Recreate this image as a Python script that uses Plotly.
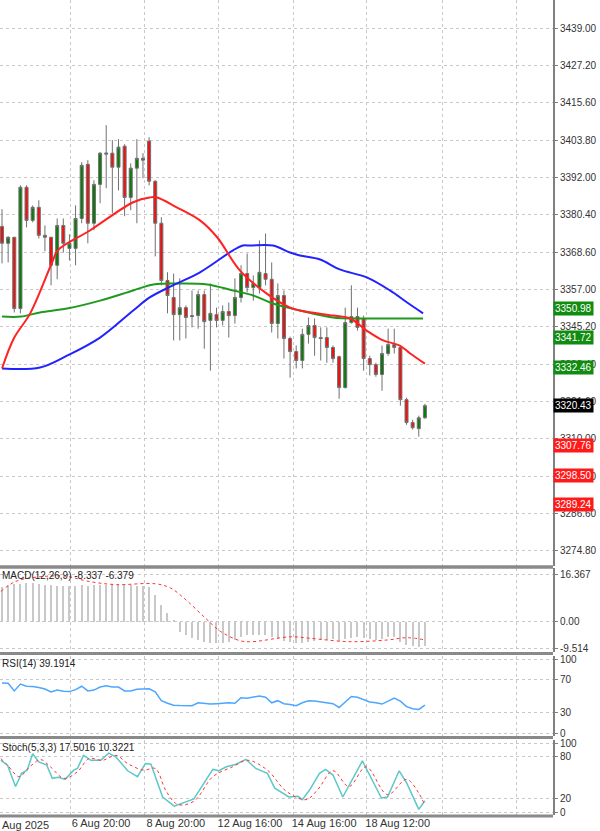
import plotly.graph_objects as go
from plotly.subplots import make_subplots

# ---------------- data ----------------
candle_idx = list(range(1, 71))
opens = [3376.7,3371.4,3373.3,3350.9,3389.0,3378.6,3382.7,3373.9,3373.3,3364.5,
         3377.0,3369.8,3369.8,3379.2,3396.2,3377.7,3389.9,3399.4,3399.7,3395.3,
         3401.9,3385.8,3395.0,3398.1,3403.5,3390.9,3377.7,3359.7,3354.4,3349.0,
         3351.2,3348.7,3348.7,3355.3,3347.2,3349.0,3347.2,3350.0,3348.7,3354.4,
         3361.9,3357.5,3357.5,3361.9,3360.1,3346.2,3355.0,3341.5,3337.4,3334.6,
         3342.8,3345.6,3341.8,3341.8,3338.7,3335.8,3326.1,3346.5,3348.4,3347.8,
         3335.2,3333.3,3330.2,3336.8,3339.6,3338.7,3322.3,3315.1,3313.2,3316.6]
highs = [3382.1,3373.6,3373.3,3389.6,3389.6,3383.3,3384.9,3377.0,3373.3,3379.2,
         3379.2,3374.2,3383.3,3396.9,3397.5,3391.2,3400.0,3408.5,3403.8,3404.1,
         3402.5,3396.5,3404.1,3399.7,3404.7,3391.2,3379.6,3362.3,3361.9,3360.4,
         3351.9,3356.6,3356.6,3356.6,3358.8,3351.2,3351.9,3352.8,3360.4,3364.5,
         3368.2,3361.3,3372.3,3374.5,3365.4,3358.8,3356.6,3342.1,3339.3,3344.6,
         3348.1,3347.8,3345.0,3345.0,3339.3,3336.1,3351.2,3358.2,3351.2,3348.7,
         3336.1,3333.9,3339.3,3344.6,3344.6,3338.7,3322.9,3316.0,3317.3,3321.0]
lows = [3365.1,3365.4,3349.7,3349.4,3376.4,3378.0,3372.9,3368.9,3358.2,3360.1,
        3368.5,3366.0,3364.5,3377.7,3371.4,3375.5,3384.0,3388.7,3380.8,3388.0,
        3379.9,3381.8,3377.7,3391.8,3389.6,3367.3,3358.2,3349.4,3340.9,3340.9,
        3341.5,3345.0,3344.6,3338.3,3331.4,3345.0,3345.6,3341.8,3346.2,3352.8,
        3356.0,3353.4,3355.6,3358.2,3343.4,3341.5,3335.2,3329.2,3332.1,3332.1,
        3339.9,3336.1,3334.6,3333.9,3333.9,3322.6,3325.8,3346.2,3344.0,3331.4,
        3329.9,3329.5,3325.1,3336.1,3336.8,3320.4,3314.4,3312.9,3310.7,3316.3]
closes = [3371.4,3373.3,3350.9,3389.0,3378.6,3382.7,3373.9,3373.3,3364.5,3377.0,
          3371.4,3371.4,3379.2,3395.9,3377.7,3389.9,3399.7,3399.7,3395.3,3401.6,
          3385.8,3395.0,3398.1,3397.5,3390.9,3377.7,3359.7,3355.0,3349.0,3351.2,
          3348.1,3348.4,3355.3,3346.8,3349.4,3347.2,3350.0,3348.7,3354.4,3361.9,
          3357.5,3358.8,3362.3,3360.1,3346.2,3355.0,3341.5,3337.4,3334.6,3342.8,
          3345.6,3341.8,3341.5,3338.7,3335.2,3326.1,3346.5,3348.4,3345.0,3335.2,
          3333.3,3330.2,3336.8,3339.6,3338.7,3322.3,3315.1,3313.5,3316.6,3320.43]

ma_red_x = [1,3,5.6,9.3,10.1,15.4,22.4,25.1,26.3,29.5,33.3,36.1,39.8,44.2,48,49.6,55,57.8,60.5,63.2,65.9,67.6,70]
ma_red_y = [3332.1,3341.8,3349.4,3366.0,3369.2,3375.5,3384.3,3385.8,3385.8,3382.7,3378.6,3373.3,3362.9,
            3355.6,3351.2,3350.3,3348.7,3347.8,3344.0,3340.9,3339.3,3336.8,3333.6]
ma_blue_x = [1,7.2,11.6,17,22.4,25.1,28.9,33.3,38.7,40.3,41.5,45.2,48,49.6,52.9,56.1,60.5,64.3,67.1,69.7]
ma_blue_y = [3332.1,3332.4,3336.1,3341.8,3350.3,3354.4,3358.2,3362.3,3369.2,3370.7,3370.7,3370.7,3368.5,
             3367.6,3366.3,3363.2,3360.7,3356.6,3352.8,3349.4]
ma_green_x = [1,4.1,7.2,11.6,17,22.4,25.7,30.1,34.5,38.7,42,45.2,49.6,55,59.4,64.8,69.7]
ma_green_y = [3348.4,3348.4,3349.7,3350.9,3353.4,3356.6,3358.5,3358.8,3358.5,3356.6,3355.0,3352.5,
              3350.3,3348.1,3347.8,3347.8,3347.8]

green_levels = [3350.98, 3341.72, 3332.46]
red_levels = [3307.76, 3298.50, 3289.24]
last_price = 3320.43

price_ticks = [3439.0,3427.2,3415.6,3403.8,3392.0,3380.4,3368.6,3357.0,3345.2,3333.4,3321.6,3310.0,3298.2,3286.6,3274.8]

macd_hist = [12.0,12.6,13.0,13.2,13.4,13.3,13.1,12.8,12.6,12.5,12.4,12.3,12.4,12.6,12.5,12.6,12.8,12.9,13.0,12.9,
             12.8,12.7,12.5,12.4,12.0,9.4,5.8,2.9,0.3,-3.5,-4.7,-5.6,-6.4,-7.2,-7.6,-7.6,-7.4,-7.0,-6.5,-5.5,
             -4.8,-4.5,-4.5,-4.6,-5.5,-6.0,-6.8,-7.2,-7.4,-7.3,-7.0,-6.6,-6.5,-6.4,-6.2,-6.6,-6.0,-5.6,-5.3,-5.8,
             -6.2,-6.5,-6.2,-5.5,-5.2,-7.0,-8.0,-8.6,-8.8,-8.337]
macd_sig_x = [0.8,3.2,7,11.4,15.2,19.6,26,28.5,31,34.2,36.7,39.9,41.8,48.1,51.2,57.6,63.9,67.1,70]
macd_sig_y = [10.5,14.0,15.6,15.8,14.0,12.9,13.2,11.7,7.6,1.2,-3.5,-6.7,-7.0,-5.3,-5.8,-7.0,-6.4,-5.6,-6.379]

rsi = [65.2,65,56,64,61.5,61.2,60,58.2,54.8,57,55.5,55.2,57.5,61.5,56,57,60.5,62,60.5,60.5,
       56,56,58,58.5,58.5,55,44.5,41.5,39.2,38.8,38.5,38.5,42,41,40.5,41,41.8,42,41.5,48,
       47.5,48.5,50,48.5,42,44.5,41,40,38.5,42,44.4,44,43,42.6,41,36.5,43,49.5,48.5,46,
       43,42,40.5,44,47.5,44,37.5,35,34.2,39.19]

stk_x = [0.8,1.9,3.2,4.2,5.1,6.0,7.0,8.3,9.2,10.2,11.3,12.7,13.3,14.3,15.5,17.1,18.4,19.6,21.5,23.1,24.4,25.3,
         27.2,29.1,32.3,35.4,36.4,37.6,39.2,40.8,42.4,44.3,45.5,47.8,49.3,50,51.2,52.8,53.8,55,56.6,59.8,62.9,
         63.9,65.8,67.0,69,70]
stk_k = [75.3,68.3,37.8,56.6,61.2,84.7,73,68.3,49.5,51,48,61.2,63.6,82.3,75.3,75.3,85.6,80,60.3,51.9,70.6,69.7,
         22.8,9.7,20,62.2,60.3,66,69.7,76.7,63.6,56.6,35.5,22.8,23.7,19,33.1,56.6,62.2,54.2,22.8,74.4,21.4,
         22.8,60.3,43.4,5,17.5]
std_x = [0.8,1.9,3.8,5.4,7.3,8.9,11.1,13.3,15.2,17.4,19.6,21.5,24.1,26,27.8,29.7,32.3,35.4,38.6,41.1,44.3,47.4,
         50.6,52.5,55,57.6,60.4,63.9,67,69,70]
std_d = [77.7,68.3,51.9,65,76.2,65.9,49.5,58.9,77.7,75.3,82.3,70.6,61.2,63.6,30.8,12,16.7,51.9,65.9,75.3,61.2,30.8,
         19,33.1,60.3,37.8,65.9,26.1,48,28.3,10.3]

time_tick_idx = [12.1, 24.3, 36.4, 48.5, 60.5, 72.8, 85.0]
time_tick_txt = ["6 Aug 20:00", "8 Aug 20:00", "12 Aug 16:00", "14 Aug 16:00", "18 Aug 12:00", "", ""]

# ---------------- figure ----------------
FONT = "Liberation Sans"
fig = make_subplots(rows=4, cols=1, shared_xaxes=True)

fig.add_trace(go.Candlestick(x=candle_idx, open=opens, high=highs, low=lows, close=closes,
    increasing=dict(line=dict(color="#707070", width=1), fillcolor="#0b7a0b"),
    decreasing=dict(line=dict(color="#707070", width=1), fillcolor="#ee1111"),
    whiskerwidth=0, showlegend=False, hoverinfo="skip"), row=1, col=1)

for lv in green_levels:
    fig.add_hline(y=lv, line=dict(color="#1f9a1f", width=2), row=1, col=1)
for lv in red_levels:
    fig.add_hline(y=lv, line=dict(color="#ff1a1a", width=2), row=1, col=1)
fig.add_hline(y=last_price, line=dict(color="#d0d0d0", width=1), row=1, col=1)

fig.add_trace(go.Scatter(x=ma_green_x, y=ma_green_y, mode="lines", line=dict(color="#1f9a1f", width=2, shape="spline"), showlegend=False), row=1, col=1)
fig.add_trace(go.Scatter(x=ma_blue_x, y=ma_blue_y, mode="lines", line=dict(color="#2222ff", width=2, shape="spline"), showlegend=False), row=1, col=1)
fig.add_trace(go.Scatter(x=ma_red_x, y=ma_red_y, mode="lines", line=dict(color="#ff2222", width=2, shape="spline"), showlegend=False), row=1, col=1)

fig.add_trace(go.Bar(x=candle_idx, y=macd_hist, marker=dict(color="#c8c8c8", line=dict(width=0)), width=0.2, showlegend=False), row=2, col=1)
fig.add_trace(go.Scatter(x=macd_sig_x, y=macd_sig_y, mode="lines", line=dict(color="#ff3333", width=1, dash="dot", shape="spline"), showlegend=False), row=2, col=1)

fig.add_trace(go.Scatter(x=candle_idx, y=rsi, mode="lines", line=dict(color="#4da6ff", width=1.5), showlegend=False), row=3, col=1)

fig.add_trace(go.Scatter(x=stk_x, y=stk_k, mode="lines", line=dict(color="#5cc8c8", width=1.5), showlegend=False), row=4, col=1)
fig.add_trace(go.Scatter(x=std_x, y=std_d, mode="lines", line=dict(color="#ff3333", width=1, dash="dot", shape="spline"), showlegend=False), row=4, col=1)

grid = dict(showgrid=True, gridcolor="#c8c8c8", griddash="dot", gridwidth=1)
xr = [0.67, 90.9]
for i in range(1, 5):
    xa = dict(range=xr, tickvals=time_tick_idx, ticktext=time_tick_txt, zeroline=False, automargin=False,
              rangeslider=dict(visible=False), showticklabels=(i == 4), ticks="", tickangle=0, **grid)
    if i == 4:
        xa.update(ticklabelshift=31, tickfont=dict(family=FONT, size=11, color="#333"), ticklabelstandoff=0)
    fig.update_xaxes(row=i, col=1, **xa)

domains = [[0.319, 1.0], [0.2154, 0.3165], [0.1143, 0.2106], [0.0193, 0.1095]]
yax = dict(side="right", showline=True, linecolor="#808080", linewidth=2, ticks="outside", ticklen=3,
           tickcolor="#808080", tickfont=dict(family=FONT, size=10, color="#333"), zeroline=False,
           automargin=False)
fig.update_yaxes(row=1, col=1, domain=domains[0], range=[3270.1, 3447.8], tickvals=price_ticks,
                 ticktext=["%.2f" % v for v in price_ticks], **grid, **yax)
fig.update_yaxes(row=2, col=1, domain=domains[1], range=[-10.6, 18.7], tickvals=[16.367, 0.0, -9.514],
                 ticktext=["16.367", "0.00", "-9.514"], **grid, **yax)
fig.update_yaxes(row=3, col=1, domain=domains[2], range=[2.9, 97.1], tickvals=[93, 70, 30, 6],
                 ticktext=["100", "70", "30", "0"], **grid, **yax)
fig.update_yaxes(row=4, col=1, domain=domains[3], range=[-2.9, 104.3], tickvals=[100, 80, 20, 0],
                 ticktext=["100", "80", "20", "0"], **grid, **yax)

shapes = []
for yy in [0.3177, 0.2136, 0.1125, 0.018]:
    shapes.append(dict(type="line", xref="paper", yref="paper", x0=0, x1=1, y0=yy, y1=yy,
                       line=dict(color="#8a8a8a", width=3)))

ann = []
for lv in green_levels:
    ann.append(dict(xref="x domain", yref="y", x=1.0, y=lv, xanchor="left", yanchor="middle", text="%.2f" % lv,
                    showarrow=False, bgcolor="#108c10", font=dict(family=FONT, size=10, color="white"), borderpad=1))
for lv in red_levels:
    ann.append(dict(xref="x domain", yref="y", x=1.0, y=lv, xanchor="left", yanchor="middle", text="%.2f" % lv,
                    showarrow=False, bgcolor="#ff1a1a", font=dict(family=FONT, size=10, color="white"), borderpad=1))
ann.append(dict(xref="x domain", yref="y", x=1.0, y=last_price, xanchor="left", yanchor="middle", text="%.2f" % last_price,
                showarrow=False, bgcolor="black", font=dict(family=FONT, size=10, color="white"), borderpad=1))
for yref, txt in [("y2 domain", "MACD(12,26,9) -8.337 -6.379"), ("y3 domain", "RSI(14) 39.1914"),
                  ("y4 domain", "Stoch(5,3,3) 17.5016 10.3221")]:
    ann.append(dict(xref="paper", yref=yref, x=0, y=1.0, xanchor="left", yanchor="top", text=txt, showarrow=False,
                    font=dict(family=FONT, size=10, color="#222")))
ann.append(dict(xref="paper", yref="paper", x=0, y=0.017, xanchor="left", yanchor="top", text="Aug 2025",
                showarrow=False, font=dict(family=FONT, size=11, color="#333")))

fig.update_layout(width=600, height=831, margin=dict(l=0, r=47, t=0, b=0), plot_bgcolor="white",
                  paper_bgcolor="white", shapes=shapes, annotations=ann, bargap=0, showlegend=False,
                  font=dict(family=FONT))
fig.write_html("out.html", config={"displayModeBar": False})

# remove the browser's default page margin so the figure sits at the window's top-left
with open("out.html", "r", encoding="utf-8") as f:
    html = f.read()
html = html.replace("<head>", "<head><style>html,body{margin:0;padding:0;overflow:hidden}</style>", 1)
with open("out.html", "w", encoding="utf-8") as f:
    f.write(html)
